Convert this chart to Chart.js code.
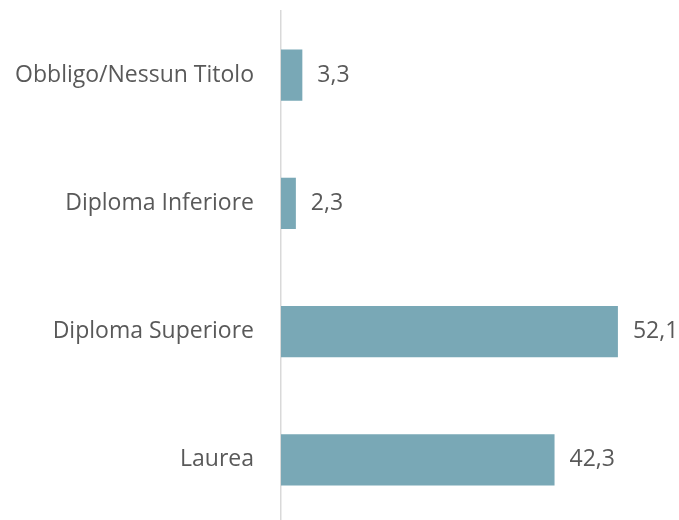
<!DOCTYPE html>
<html>
<head>
<meta charset="utf-8">
<script src="https://cdn.jsdelivr.net/npm/chart.js@4"></script>
<style>
  html, body { margin: 0; padding: 0; background: #fff; overflow: hidden; }
  #wrap { width: 679px; height: 524px; }
</style>
</head>
<body>
<div id="wrap"><canvas id="chart"></canvas></div>
<script>
// Titolo di studio - barre orizzontali
const categories = ['Obbligo/Nessun Titolo', 'Diploma Inferiore', 'Diploma Superiore', 'Laurea'];
const values = [3.3, 2.3, 52.1, 42.3];

const FONT = { family: '"Open Sans", "Noto Sans", sans-serif', size: 23 };
const TEXT_COLOR = '#595959';

// etichette valore a destra delle barre, con la virgola decimale
const valueLabels = {
    id: 'valueLabels',
    afterDatasetsDraw(chart) {
        const ctx = chart.ctx;
        const meta = chart.getDatasetMeta(0);
        ctx.save();
        ctx.font = `${FONT.size}px ${FONT.family}`;
        ctx.fillStyle = TEXT_COLOR;
        ctx.textAlign = 'left';
        ctx.textBaseline = 'middle';
        meta.data.forEach((bar, i) => {
            const txt = values[i].toFixed(1).replace('.', ',');
            ctx.fillText(txt, bar.x + 15, bar.y);
        });
        ctx.restore();
    }
};

new Chart(document.getElementById('chart'), {
    type: 'bar',
    data: {
        labels: categories,
        datasets: [{
            data: values,
            backgroundColor: '#79a8b6',
            borderWidth: 0,
            barPercentage: 0.8,
            categoryPercentage: 0.5
        }]
    },
    options: {
        indexAxis: 'y',
        responsive: true,
        maintainAspectRatio: false,
        animation: false,
        layout: { padding: { top: 11, right: 10, bottom: 0, left: 0 } },
        plugins: { legend: { display: false }, tooltip: { enabled: false } },
        scales: {
            x: { display: false, min: 0, max: 60 },
            y: {
                afterFit(scale) {
                    scale.width = 281;
                    scale.paddingTop = 0;
                    scale.paddingBottom = 0;
                },
                grid: { display: false, drawTicks: false },
                border: { display: true, color: '#d9d9d9', width: 1.5 },
                ticks: { color: TEXT_COLOR, font: FONT, padding: 27 }
            }
        }
    },
    plugins: [valueLabels]
});
</script>
</body>
</html>
